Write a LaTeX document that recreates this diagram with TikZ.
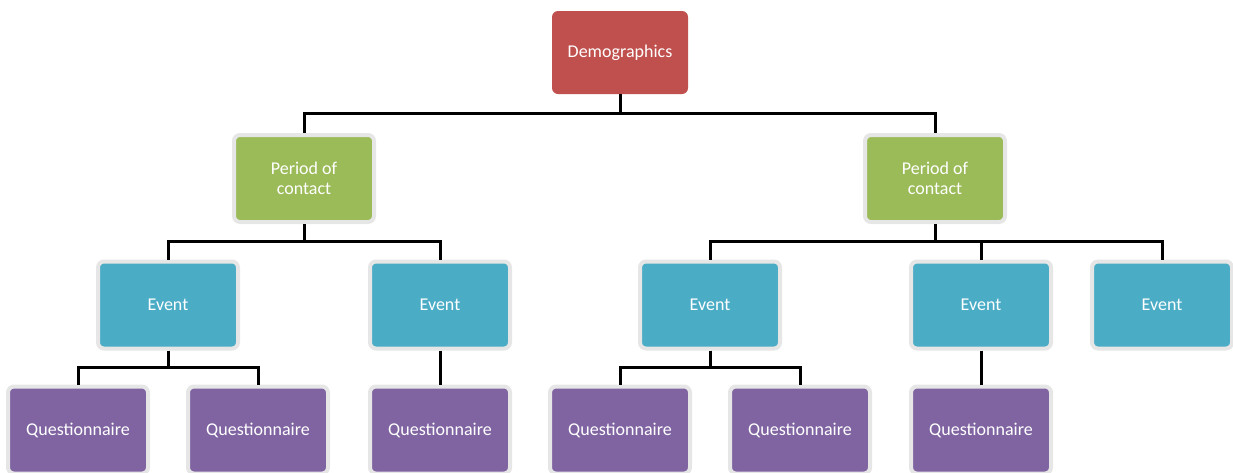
\documentclass[tikz,border=0pt]{standalone}
\usepackage{fontspec}
\setmainfont{Carlito}
\usetikzlibrary{calc}

\definecolor{demored}{HTML}{C0504D}
\definecolor{periodgreen}{HTML}{9BBB59}
\definecolor{eventblue}{HTML}{4BACC6}
\definecolor{questpurple}{HTML}{8064A2}
\definecolor{rimgrey}{HTML}{E6E6E6}

\tikzset{
  box/.style={rounded corners=6pt, text=white, align=center,
    font=\fontsize{18}{20}\selectfont, inner sep=0pt},
  rimbox/.style={box, draw=rimgrey, line width=4pt,
    minimum width=140pt, minimum height=87pt},
  demobox/.style={box, fill=demored, minimum width=136pt, minimum height=83pt},
  periodbox/.style={rimbox, fill=periodgreen},
  eventbox/.style={rimbox, fill=eventblue},
  questbox/.style={rimbox, fill=questpurple},
  wire/.style={draw=black, line width=3pt},
  branch/.style={to path={let \p1=(\tikztostart), \p2=(\tikztotarget) in
      (\tikztostart) -- (\x1,{(\y1+\y2)/2}) -| (\tikztotarget)}}
}

\begin{document}
\begin{tikzpicture}[x=1pt, y=-1pt]

  \useasboundingbox (0,0) rectangle (1233,472);

  % top
  \node[demobox] (demo) at (620,52.5) {Demographics};

  % periods
  \node[periodbox] (per1) at (304,178.5) {Period of\\contact};
  \node[periodbox] (per2) at (935,178.5) {Period of\\contact};

  % events
  \foreach \name/\x in {ev1/168, ev2/440, ev3/710, ev4/981, ev5/1162}{
    \node[eventbox] (\name) at (\x,305) {Event};
  }

  % questionnaires
  \foreach \name/\x in {q1/78, q2/258, q3/440, q4/620, q5/800, q6/981}{
    \node[questbox] (\name) at (\x,430) {Questionnaire};
  }

  % connectors
  \draw[wire] (demo.south) to[branch] (per1.north);
  \draw[wire] (demo.south) to[branch] (per2.north);

  \foreach \kid in {ev1,ev2}{
    \draw[wire] (per1.south) to[branch] (\kid.north);
  }
  \foreach \kid in {ev3,ev4,ev5}{
    \draw[wire] (per2.south) to[branch] (\kid.north);
  }

  \draw[wire] (ev1.south) to[branch] (q1.north);
  \draw[wire] (ev1.south) to[branch] (q2.north);
  \draw[wire] (ev2.south) to[branch] (q3.north);
  \draw[wire] (ev3.south) to[branch] (q4.north);
  \draw[wire] (ev3.south) to[branch] (q5.north);
  \draw[wire] (ev4.south) to[branch] (q6.north);

\end{tikzpicture}
\end{document}
